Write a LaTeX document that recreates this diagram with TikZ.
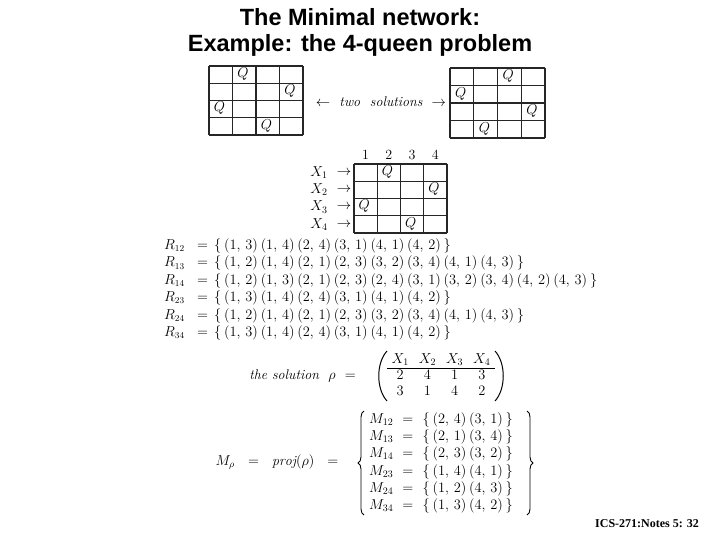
\documentclass[tikz,border=0pt]{standalone}
\usepackage{fontspec}
\usetikzlibrary{decorations.pathreplacing}
\newfontfamily\titlefont{Liberation Sans}
\newfontfamily\footfont{Liberation Serif}
\newcommand{\pr}[2]{(#1,\,#2)}
\newcommand{\gp}{\hspace{2.8pt}}
\tikzset{
  gridline/.style={line width=1.2pt, black!85},
  qmark/.style={font=\fontsize{14.5}{14.5}\selectfont, inner sep=0pt},
  txt/.style={font=\fontsize{14}{16.8}\selectfont, inner sep=0pt},
  rel/.style={anchor=base west, inner sep=0pt, font=\fontsize{13.5}{16.2}\selectfont},
  bigbrace/.style={decorate, decoration={brace, amplitude=6pt, aspect=0.5}, line width=0.9pt},
  paren/.style={line width=1pt},
}
\newcommand{\relrow}[4]{%
  \node[rel] (#1l) at (164,#2) {$#3$};
  \node[rel] (#1e) at (197,#2) {$=$};
  \node[rel] (#1s) at (214,#2) {$\{\gp #4\gp\}$};
}
\begin{document}
\begin{tikzpicture}[x=1pt,y=-1pt]
\useasboundingbox[fill=white] (0,0) rectangle (720,540);
% title
\node[font=\titlefont\bfseries\fontsize{23.5}{24}\selectfont] (title1) at (360,17) {The Minimal network:};
\node[font=\titlefont\bfseries\fontsize{23.5}{24}\selectfont] (title2) at (360,45) {Example: the 4-queen problem};
% left board
\foreach \i in {0,...,4} {
  \draw[gridline] (209+23.5*\i,66) -- (209+23.5*\i,135);
  \draw[gridline] (209,66+17.25*\i) -- (303,66+17.25*\i);
}
\foreach \r/\c in {1/2,2/4,3/1,4/3}
  \node[qmark] (qa\r) at (209+23.5*\c-13,66+17.25*\r-9.5) {$Q$};
% right board
\foreach \i in {0,...,4} {
  \draw[gridline] (450+23.75*\i,68) -- (450+23.75*\i,138);
  \draw[gridline] (450,68+17.5*\i) -- (545,68+17.5*\i);
}
\foreach \r/\c in {1/3,2/1,3/4,4/2}
  \node[qmark] (qb\r) at (450+23.75*\c-13,68+17.5*\r-9.5) {$Q$};
\node[txt] (twosol) at (381,102) {$\leftarrow$\ \ \textit{two\ \ solutions}\ \ $\rightarrow$};
% middle board
\foreach \i in {0,...,4} {
  \draw[gridline] (354+23.25*\i,164) -- (354+23.25*\i,233);
  \draw[gridline] (354,164+17.25*\i) -- (447,164+17.25*\i);
}
\foreach \c in {1,...,4}
  \node[txt] (col\c) at (354+23.25*\c-11.6,155) {\c};
\foreach \r in {1,...,4} {
  \node[txt] (xl\r) at (319,164+17.25*\r-8.6) {$X_\r$};
  \node[txt] (xa\r) at (344,164+17.25*\r-8.6) {$\rightarrow$};
}
\foreach \r/\c in {1/2,2/4,3/1,4/3}
  \node[qmark] (qc\r) at (354+23.25*\c-13,164+17.25*\r-9.5) {$Q$};
% relations
\relrow{r12}{249.5}{R_{12}}{\pr13\gp\pr14\gp\pr24\gp\pr31\gp\pr41\gp\pr42}
\relrow{r13}{266.9}{R_{13}}{\pr12\gp\pr14\gp\pr21\gp\pr23\gp\pr32\gp\pr34\gp\pr41\gp\pr43}
\relrow{r14}{284.3}{R_{14}}{\pr12\gp\pr13\gp\pr21\gp\pr23\gp\pr24\gp\pr31\gp\pr32\gp\pr34\gp\pr42\gp\pr43}
\relrow{r23}{301.7}{R_{23}}{\pr13\gp\pr14\gp\pr24\gp\pr31\gp\pr41\gp\pr42}
\relrow{r24}{319.1}{R_{24}}{\pr12\gp\pr14\gp\pr21\gp\pr23\gp\pr32\gp\pr34\gp\pr41\gp\pr43}
\relrow{r34}{336.5}{R_{34}}{\pr13\gp\pr14\gp\pr24\gp\pr31\gp\pr41\gp\pr42}
% solution
\node[txt,anchor=east] (soltext) at (356,376) {\textit{the solution}\ \ $\rho$\ \ $=$};
\node[txt] (solmat) at (441,376) {\renewcommand{\arraystretch}{0.95}$\begin{array}{cccc} X_1 & X_2 & X_3 & X_4\\ \hline 2 & 4 & 1 & 3\\ 3 & 1 & 4 & 2\end{array}$};
\coordinate (lptop) at (387,351);
\coordinate (lpbot) at (387,401);
\coordinate (rptop) at (495,351);
\coordinate (rpbot) at (495,401);
\draw[paren] (lptop) .. controls (376,363) and (376,389) .. (lpbot);
\draw[paren] (rptop) .. controls (506,363) and (506,389) .. (rpbot);
% minimal network
\node[txt] (mplabel) at (277,462) {$M_\rho\ \ =\ \ \mathit{proj}(\rho)\ \ =$};
\node[txt,anchor=west] (mset) at (369,463) {\renewcommand{\arraystretch}{1.03}$\begin{array}{@{}l@{\ \ }c@{\ \ }l@{}}
M_{12} & = & \{\gp\pr24\gp\pr31\gp\}\\
M_{13} & = & \{\gp\pr21\gp\pr34\gp\}\\
M_{14} & = & \{\gp\pr23\gp\pr32\gp\}\\
M_{23} & = & \{\gp\pr14\gp\pr41\gp\}\\
M_{24} & = & \{\gp\pr12\gp\pr43\gp\}\\
M_{34} & = & \{\gp\pr13\gp\pr42\gp\}
\end{array}$};
\coordinate (lbtop) at (364,411);
\coordinate (lbbot) at (364,515);
\coordinate (rbtop) at (527,411);
\coordinate (rbbot) at (527,515);
\draw[bigbrace] (lbbot) -- (lbtop);
\draw[bigbrace] (rbtop) -- (rbbot);
% footer
\node[font=\footfont\bfseries\fontsize{12}{12}\selectfont] (foot) at (647,524) {ICS-271:Notes 5: 32};
\end{tikzpicture}
\end{document}
